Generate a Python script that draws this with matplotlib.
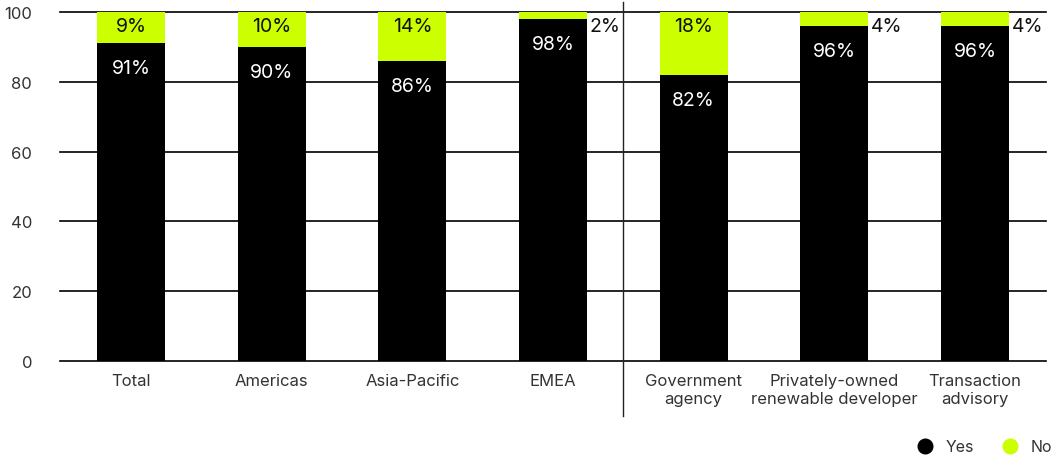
import matplotlib
matplotlib.use("Agg")
import matplotlib.pyplot as plt
from matplotlib.lines import Line2D

plt.rcParams['font.family'] = ['Inter', 'DejaVu Sans']

categories = ["Total", "Americas", "Asia-Pacific", "EMEA",
              "Government\nagency", "Privately-owned\nrenewable developer",
              "Transaction\nadvisory"]
yes_values = [91, 90, 86, 98, 82, 96, 96]
no_values = [9, 10, 14, 2, 18, 4, 4]
y_ticks = [0, 20, 40, 60, 80, 100]

YES_COLOR = "#000000"
NO_COLOR = "#CCFF00"

fig = plt.figure(figsize=(10.63, 4.6), dpi=100)
ax = fig.add_axes([60 / 1063, 1 - 362 / 460, (1046 - 60) / 1063, 349 / 460])

x = list(range(len(categories)))
width = 0.483

ax.set_ylim(0, 100)
ax.set_xlim(-0.505, len(categories) - 1 + 0.505)

for t in y_ticks:
    ax.axhline(t, color="black", lw=1.2, zorder=0, clip_on=False)

ax.bar(x, yes_values, width, color=YES_COLOR, zorder=2)
ax.bar(x, no_values, width, bottom=yes_values, color=NO_COLOR, zorder=2)

for xi, yv, nv in zip(x, yes_values, no_values):
    ax.annotate(f"{yv}%", (xi, yv), xytext=(0, -18), textcoords="offset points",
                ha="center", va="center", color="white", fontsize=14, zorder=3)
    if nv >= 8:
        ax.annotate(f"{nv}%", (xi, 100), xytext=(0, -10), textcoords="offset points",
                    ha="center", va="center", color="#111111", fontsize=14, zorder=3)
    else:
        ax.annotate(f"{nv}%", (xi + width / 2, 100), xytext=(2.0, -10),
                    textcoords="offset points", ha="left", va="center",
                    color="#111111", fontsize=14, zorder=3)

# separator between regions and organisation types
ax.add_line(Line2D([3.5, 3.5], [-15.8, 102.8], color="#222222", lw=1.0,
                   clip_on=False, zorder=1))

for s in ax.spines.values():
    s.set_visible(False)

ax.set_yticks(y_ticks)
ax.set_yticklabels([str(t) for t in y_ticks])
ax.set_xticks(x)
ax.set_xticklabels(categories, linespacing=1.2)
ax.tick_params(axis="y", length=0, pad=20, labelsize=12, labelcolor="#333333")
ax.tick_params(axis="x", length=0, pad=9, labelsize=12, labelcolor="#333333")

handles = [Line2D([], [], marker="o", ls="", markersize=10.5, color=YES_COLOR),
           Line2D([], [], marker="o", ls="", markersize=10.5, color=NO_COLOR)]
fig.legend(handles, ["Yes", "No"], loc="center right", bbox_to_anchor=(1.0, 1 - 448 / 460),
           ncol=2, frameon=False, fontsize=11.5, handletextpad=0.3, columnspacing=1.2,
           labelcolor="#333333", borderaxespad=0.3)

fig.savefig("out.png", dpi=100)
